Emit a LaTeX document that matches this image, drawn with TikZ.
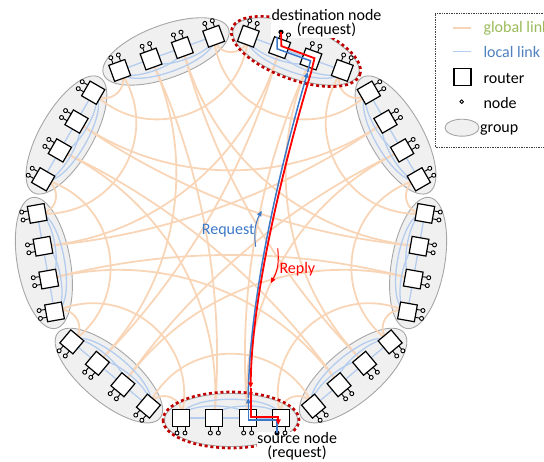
\documentclass[tikz,border=0pt]{standalone}
\usepackage{fontspec}
\setmainfont{Carlito}
\usetikzlibrary{calc,arrows.meta}
\definecolor{globalc}{HTML}{F9D5B7}
\definecolor{localc}{HTML}{B4CCEE}
\definecolor{groupfill}{HTML}{F0F0F0}
\definecolor{groupdraw}{HTML}{A6A6A6}
\definecolor{pathred}{HTML}{FF0000}
\definecolor{pathblue}{HTML}{3C78C8}
\definecolor{darkred}{HTML}{C00000}
\definecolor{legendgreen}{HTML}{9BBB59}
\definecolor{legendblue}{HTML}{4F81BD}
\begin{document}
\begin{tikzpicture}[x=1pt,y=1pt,
  grp/.style={fill=groupfill,draw=groupdraw,line width=0.9pt},
  glink/.style={draw=globalc,line width=1.8pt},
  llink/.style={draw=localc,line width=1.3pt},
  rtr/.style={fill=white,draw=black,line width=1.2pt},
  hostc/.style={fill=white,draw=black,line width=0.9pt},
  stem/.style={draw=black,line width=0.9pt},
  hilite/.style={draw=darkred,line width=2.6pt,dash pattern=on 3pt off 2.8pt},
  req/.style={draw=pathblue,line width=1.5pt},
  rep/.style={draw=pathred,line width=1.8pt},
  tip/.style={-{Triangle[length=5.5pt,width=4.5pt]}},
  lbl/.style={font=\fontsize{16}{16}\selectfont,inner sep=0pt},
  endlbl/.style={font=\fontsize{16}{14}\selectfont,align=center,inner sep=0.5pt,fill=white},
]
\useasboundingbox (0,0) rectangle (544,461);
\clip (0,0) rectangle (544,461);
\coordinate (O) at (231,231);

% group outlines and router anchor points
\foreach \g in {0,...,8}{
  \pgfmathsetmacro{\ang}{-90+40*\g}
  \begin{scope}[shift={(O)},rotate=\ang-90,shift={(0,188)}]
    \draw[grp] (0,2) ellipse [x radius=66.5, y radius=26.5];
    \foreach \r in {0,...,3}{
      \coordinate (R\g-\r) at ({-50+100/3*\r},0);
    }
  \end{scope}
}

% global links: router r of group g serves offsets 2r+1, 2r+2
\foreach \g in {0,...,8}{
  \foreach \dd in {1,...,4}{
    \pgfmathtruncatemacro{\gt}{mod(\g+\dd,9)}
    \pgfmathtruncatemacro{\srcr}{int((\dd-1)/2)}
    \pgfmathtruncatemacro{\dstr}{int((8-\dd)/2)}
    \pgfmathsetmacro{\xa}{-50+100/3*\srcr}
    \pgfmathsetmacro{\xb}{-50+100/3*\dstr}
    \pgfmathsetmacro{\dang}{40*\dd-atan(\xb/188)+atan(\xa/188)}
    \pgfmathsetmacro{\rr}{94*(sqrt(1+(\xa/188)^2)+sqrt(1+(\xb/188)^2))}
    \pgfmathsetmacro{\lenc}{4/3*tan((180-\dang)/4)*\rr*tan(\dang/2)}
    \draw[glink] (R\g-\srcr) .. controls ($(R\g-\srcr)!\lenc pt!(O)$) and ($(R\gt-\dstr)!\lenc pt!(O)$) .. (R\gt-\dstr);
  }
}

% local links inside each group
\foreach \g in {0,...,8}{
  \pgfmathsetmacro{\ang}{-90+40*\g}
  \begin{scope}[shift={(O)},rotate=\ang-90,shift={(0,188)}]
    \draw[llink] (-50,0) -- (50,0);
    \draw[llink] (-50,0) .. controls (-50,-16) and (16.667,-16) .. (16.667,0);
    \draw[llink] (-16.667,0) .. controls (-16.667,-16) and (50,-16) .. (50,0);
    \draw[llink] (-50,0) .. controls (-50,-25) and (50,-25) .. (50,0);
  \end{scope}
}

% highlighted source and destination groups
\begin{scope}[shift={(O)},rotate=-180,shift={(0,188)}]
  \draw[hilite] (0,2) ellipse [x radius=68, y radius=28];
\end{scope}
\begin{scope}[shift={(O)},rotate=-20,shift={(0,188)}]
  \draw[hilite] (0,2) ellipse [x radius=68, y radius=28];
\end{scope}

% labels of the end nodes (base anchor sits on the last line)
\node[endlbl,anchor=base] (dstlbl) at (326.5,426.5) {destination node\\(request)};
\node[endlbl,anchor=base] (srclbl) at (297,3.5) {source node\\(request)};

% routers with their two compute nodes
\foreach \g in {0,...,8}{
  \pgfmathsetmacro{\ang}{-90+40*\g}
  \begin{scope}[shift={(O)},rotate=\ang-90,shift={(0,188)}]
    \foreach \r in {0,...,3}{
      \begin{scope}[shift={({-50+100/3*\r},0)}]
        \draw[stem] (-4,8.5) -- (-4,13) (4,8.5) -- (4,13);
        \draw[hostc] (-4,15) circle (2) (4,15) circle (2);
        \draw[rtr] (-8.5,-8.5) rectangle (8.5,8.5);
        \coordinate (N\g-\r-a) at (-4,15);
        \coordinate (N\g-\r-b) at (4,15);
      \end{scope}
    }
  \end{scope}
}
\fill (N0-0-b) circle (2.3);
\fill (N4-1-a) circle (2.3);

% request path (source to destination)
\coordinate (b1) at (277,41);
\coordinate (b2) at (248.3,41);
\coordinate (b3) at (248.3,63);
\coordinate (b4) at (307.7,389);
\coordinate (b5) at (310.5,400.2);
\coordinate (b6) at (277,412.2);
\coordinate (b7) at (277,424);
\draw[req,tip] (N0-0-b) -- (b1) -- (b2) -- (b3);
\draw[req,tip] (b3) .. controls (249,171) and (285,311) .. (b4);
\draw[req] (b4) -- (b5) -- (b6) -- (b7);

% reply path (destination back to source)
\coordinate (r1) at (281.4,414.9);
\coordinate (r2) at (314.5,402.8);
\coordinate (r3) at (311.2,389);
\coordinate (r4) at (250.7,73);
\coordinate (r5) at (250.7,44.3);
\coordinate (r6) at (278.3,44.3);
\coordinate (r7) at (278.3,36);
\draw[rep] (N4-1-a) -- (r1) -- (r2) -- (r3);
\draw[rep,tip] (r3) .. controls (287.8,311) and (251.5,171) .. (r4);
\draw[rep,tip] (r4) -- (r5) -- (r6) -- (r7);

% direction hints
\node[lbl,anchor=base west,text=pathblue] (reqlbl) at (201.7,226.5) {Request};
\coordinate (qa) at (255.7,214.3);
\coordinate (qb) at (261.7,250.3);
\draw[draw=pathblue,line width=1pt,tip] (qa) to[bend left=18] (qb);
\node[lbl,anchor=base west,text=pathred] (replbl) at (279.3,187) {Reply};
\coordinate (pa) at (277.7,212.7);
\coordinate (pb) at (270.7,177.7);
\draw[draw=pathred,line width=1pt,tip] (pa) to[bend left=18] (pb);

% legend
\draw[densely dotted,line width=0.7pt,draw=black!75] (435,314) rectangle (560,448);
\coordinate (lg1a) at (453,433.3);
\coordinate (lg1b) at (471,433.3);
\draw[glink] (lg1a) -- (lg1b);
\node[lbl,anchor=base west,text=legendgreen] (lgt1) at (483.3,428.5) {global link};
\coordinate (lg2a) at (453,409.3);
\coordinate (lg2b) at (471,409.3);
\draw[llink] (lg2a) -- (lg2b);
\node[lbl,anchor=base west,text=legendblue] (lgt2) at (483.3,403) {local link};
\draw[rtr] (454,375.5) rectangle (471,392.5);
\node[lbl,anchor=base west] (lgt3) at (483.3,377.7) {router};
\draw[hostc] (461.7,359.3) circle (1.8);
\node[lbl,anchor=base west] (lgt4) at (483.3,352.7) {node};
\draw[grp] (462,333.3) ellipse [x radius=17, y radius=8.5];
\node[lbl,anchor=base west] (lgt5) at (480,328.3) {group};
\end{tikzpicture}
\end{document}
